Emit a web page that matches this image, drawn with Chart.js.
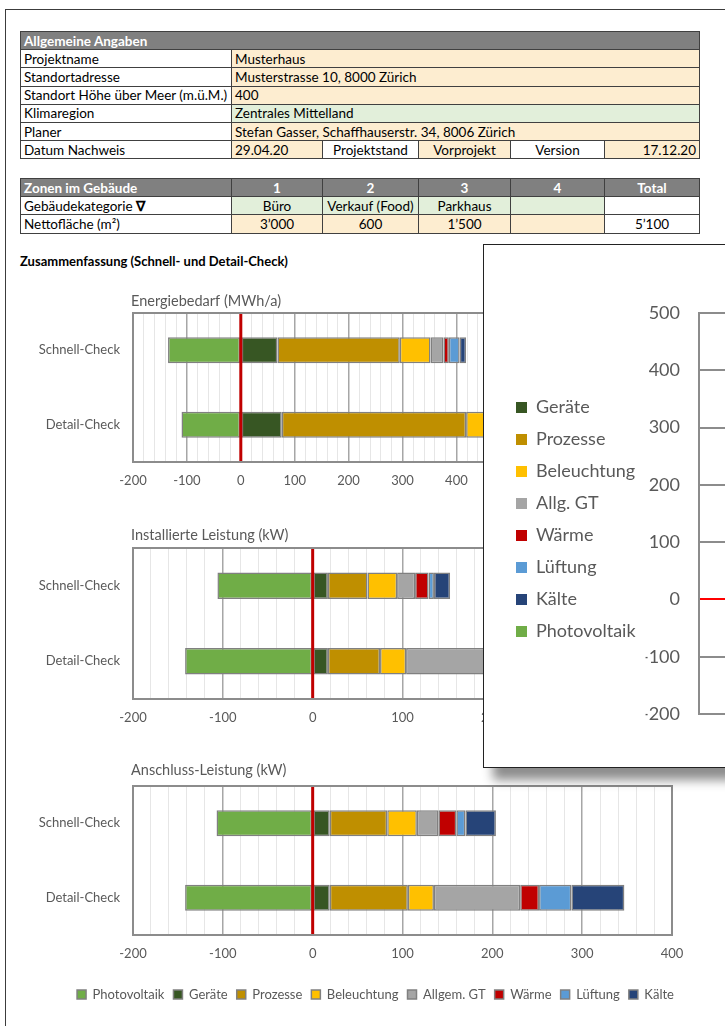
<!DOCTYPE html>
<html>
<head>
<meta charset="utf-8">
<script src="https://cdn.jsdelivr.net/npm/chart.js@4.4.1/dist/chart.umd.min.js"></script>
<style>
  html, body { margin: 0; padding: 0; background: #fff; }
  body { width: 725px; height: 1026px; overflow: hidden; position: relative; font-family: Lato, "Liberation Sans", sans-serif; }
  .page { position: absolute; left: 5px; top: 9px; width: 900px; height: 1100px; border-left: 1.5px solid #3c3c3c; border-top: 1.5px solid #3c3c3c; }
  table.sheet { position: absolute; left: 20px; border-collapse: collapse; table-layout: fixed; width: 679px; font-size: 13.5px; color: #000; }
  table.sheet td { border: 1px solid #404040; padding: 0 3px; height: 17.2px; line-height: 16px; white-space: nowrap; overflow: hidden; }
  table.sheet tr.hd td { background: #808080; color: #fff; font-weight: bold; }
  table.z tr.hd td + td { border-left: 1px solid #d0d0d0; }
  .y { background: #fdedd0; }
  .g { background: #e2efda; }
  .c { text-align: center; }
  .r { text-align: right; }
  .heading { position: absolute; left: 20px; top: 253px; font-size: 13px; font-weight: bold; color: #000; }
  .box { position: absolute; }
  .overlay { position: absolute; left: 483px; top: 244px; width: 1000px; height: 522px; background: #fff; border: 1.5px solid #222; box-shadow: 10px 12px 10px rgba(0,0,0,0.45); z-index: 5; }
</style>
</head>
<body>
<div class="page"></div>

<table class="sheet" style="top:31px">
  <colgroup><col style="width:211px"><col style="width:91px"><col style="width:96px"><col style="width:92px"><col style="width:94px"><col style="width:95px"></colgroup>
  <tr class="hd"><td colspan="6">Allgemeine Angaben</td></tr>
  <tr><td>Projektname</td><td class="y" colspan="5">Musterhaus</td></tr>
  <tr><td>Standortadresse</td><td class="y" colspan="5">Musterstrasse 10, 8000 Zürich</td></tr>
  <tr><td>Standort Höhe über Meer (m.ü.M.)</td><td class="y" colspan="5">400</td></tr>
  <tr><td>Klimaregion</td><td class="g" colspan="5">Zentrales Mittelland</td></tr>
  <tr><td>Planer</td><td class="y" colspan="5">Stefan Gasser, Schaffhauserstr. 34, 8006 Zürich</td></tr>
  <tr><td>Datum Nachweis</td><td class="y">29.04.20</td><td class="c">Projektstand</td><td class="y c">Vorprojekt</td><td class="c">Version</td><td class="y r">17.12.20</td></tr>
</table>

<table class="sheet z" style="top:178px">
  <colgroup><col style="width:211px"><col style="width:91px"><col style="width:96px"><col style="width:92px"><col style="width:94px"><col style="width:95px"></colgroup>
  <tr class="hd"><td>Zonen im Gebäude</td><td class="c">1</td><td class="c">2</td><td class="c">3</td><td class="c">4</td><td class="c">Total</td></tr>
  <tr><td>Gebäudekategorie <b>∇</b></td><td class="g c">Büro</td><td class="g c">Verkauf (Food)</td><td class="g c">Parkhaus</td><td class="g"></td><td></td></tr>
  <tr><td>Nettofläche (m²)</td><td class="y c">3’000</td><td class="y c">600</td><td class="y c">1’500</td><td class="y"></td><td class="c">5’100</td></tr>
</table>

<div class="heading">Zusammenfassung (Schnell- und Detail-Check)</div>

<div class="box" style="left:0;top:290px"><canvas id="energy" width="751" height="210"></canvas></div>
<div class="box" style="left:0;top:525px"><canvas id="installed" width="751" height="212"></canvas></div>
<div class="box" style="left:0;top:763px"><canvas id="connection" width="751" height="263"></canvas></div>

<div class="overlay"><canvas id="overlay" width="1000" height="522"></canvas></div>

<script>
const checks = ['Schnell-Check', 'Detail-Check'];
const seriesNames = ['Photovoltaik', 'Geräte', 'Prozesse', 'Beleuchtung', 'Allgem. GT', 'Wärme', 'Lüftung', 'Kälte'];
const seriesColors = ['#70ad47', '#375623', '#bf8f00', '#ffc000', '#a5a5a5', '#c00000', '#5b9bd5', '#264478'];

// Energiebedarf (MWh/a), same order as seriesNames
const energySchnell = [-135, 68, 227, 57, 24, 10, 20, 12];
const energyDetail = [-110, 76, 342, 60, 55, 15, 30, 25];

// Installierte Leistung (kW)
const installedSchnell = [-106, 17, 44, 33, 20, 15, 6, 18];
const installedDetail = [-142, 17, 58, 29, 121, 20, 35, 55];

// Anschluss-Leistung (kW)
const connectionSchnell = [-107, 19, 64, 33, 24, 20, 10, 34];
const connectionDetail = [-142, 19, 87, 29, 96, 21, 36, 59];

// overlay chart legend (vertical column)
const overlayNames = ['Geräte', 'Prozesse', 'Beleuchtung', 'Allg. GT', 'Wärme', 'Lüftung', 'Kälte', 'Photovoltaik'];
const overlaySeries = [1, 2, 3, 4, 5, 6, 7, 0];

Chart.defaults.font.family = 'Lato, "Liberation Sans", sans-serif';

// frame round the plot, red zero line and a title over the plot's left edge
const framePlugin = {
  id: 'frame',
  afterDatasetsDraw(chart, args, opts) {
    const { ctx, chartArea: a, scales } = chart;
    ctx.save();
    const x0 = scales.x.getPixelForValue(0);
    ctx.strokeStyle = '#c00000';
    ctx.lineWidth = 3;
    ctx.beginPath();
    ctx.moveTo(x0, a.top);
    ctx.lineTo(x0, a.bottom);
    ctx.stroke();
    ctx.strokeStyle = '#8c8c8c';
    ctx.lineWidth = 2;
    ctx.strokeRect(a.left, a.top, a.right - a.left, a.bottom - a.top);
    ctx.fillStyle = '#595959';
    ctx.font = '14.5px Lato, "Liberation Sans", sans-serif';
    ctx.textBaseline = 'middle';
    ctx.fillText(opts.title, a.left - 2, a.top - opts.offset);
    ctx.restore();
  }
};

function hbarChart(id, title, offset, xMax, schnell, detail, withLegend) {
  const datasets = seriesNames.map((name, i) => ({
    label: name,
    data: [schnell[i], detail[i]],
    backgroundColor: seriesColors[i],
    borderColor: '#808080',
    borderWidth: 1.5,
    borderSkipped: false,
    categoryPercentage: 1,
    barPercentage: 0.35
  }));

  return new Chart(document.getElementById(id), {
    type: 'bar',
    data: { labels: checks, datasets: datasets },
    options: {
      indexAxis: 'y',
      responsive: false,
      animation: false,
      devicePixelRatio: 1,
      layout: { padding: { top: 23, left: 0, right: 0, bottom: withLegend ? 15 : 0 } },
      scales: {
        x: {
          stacked: true,
          min: -200,
          max: xMax,
          afterFit: s => { s.height = 38; },
          border: { display: false },
          grid: {
            drawTicks: false,
            color: c => c.tick.value % 100 === 0 ? '#a6a6a6' : '#e6e6e6',
            lineWidth: c => c.tick.value % 100 === 0 ? 1.5 : 1
          },
          ticks: {
            stepSize: 20,
            maxTicksLimit: 200,
            autoSkip: false,
            maxRotation: 0,
            padding: 11,
            color: '#595959',
            font: { size: 13 },
            callback: v => v % 100 === 0 ? String(v) : ''
          }
        },
        y: {
          stacked: true,
          afterFit: s => { s.width = 133; },
          border: { display: false },
          grid: { display: false, drawTicks: false },
          ticks: { padding: 13, color: '#595959', font: { size: 13 } }
        },
        yRight: {
          position: 'right',
          afterFit: s => { s.width = 79; },
          border: { display: false },
          grid: { display: false, drawTicks: false },
          ticks: { display: false }
        }
      },
      plugins: {
        legend: {
          display: withLegend,
          position: 'bottom',
          title: { display: true, text: '', padding: 0, font: { size: 5 } },
          labels: { boxWidth: 9, boxHeight: 9, padding: 9, color: '#595959', font: { size: 13 } }
        },
        tooltip: { enabled: false },
        frame: { title: title, offset: offset }
      }
    },
    plugins: [framePlugin]
  });
}

hbarChart('energy', 'Energiebedarf (MWh/a)', 12, 800, energySchnell, energyDetail, false);
hbarChart('installed', 'Installierte Leistung (kW)', 13, 400, installedSchnell, installedDetail, false);
hbarChart('connection', 'Anschluss-Leistung (kW)', 16, 400, connectionSchnell, connectionDetail, true);

// popup chart on top, only its left part is visible
new Chart(document.getElementById('overlay'), {
  type: 'bar',
  data: {
    labels: checks,
    datasets: overlaySeries.map((k, j) => ({
      label: overlayNames[j],
      data: [energySchnell[k], energyDetail[k]],
      backgroundColor: seriesColors[k],
      borderWidth: 0,
      categoryPercentage: 1,
      barPercentage: 0.35
    }))
  },
  options: {
    responsive: false,
    animation: false,
    devicePixelRatio: 1,
    layout: { padding: { top: 68, bottom: 53, left: 18, right: 0 } },
    scales: {
      x: { stacked: true, display: false },
      y: {
        stacked: true,
        min: -200,
        max: 500,
        afterFit: s => {
          const lg = s.chart.legend;
          s.width = 215 - 18 - (lg ? lg.width : 0);
        },
        border: { display: true, color: '#8c8c8c', width: 2 },
        grid: { drawTicks: false, lineWidth: 2, color: c => c.tick.value === 0 ? '#ff0000' : '#8c8c8c' },
        ticks: { stepSize: 100, padding: 19, color: '#595959', font: { size: 18 } }
      }
    },
    plugins: {
      legend: {
        position: 'left',
        maxWidth: 220,
        title: { display: true, text: '', padding: 0, font: { size: 10 } },
        labels: { boxWidth: 11, boxHeight: 11, padding: 14, color: '#595959', font: { size: 18 } }
      },
      tooltip: { enabled: false }
    }
  }
});
</script>
</body>
</html>
